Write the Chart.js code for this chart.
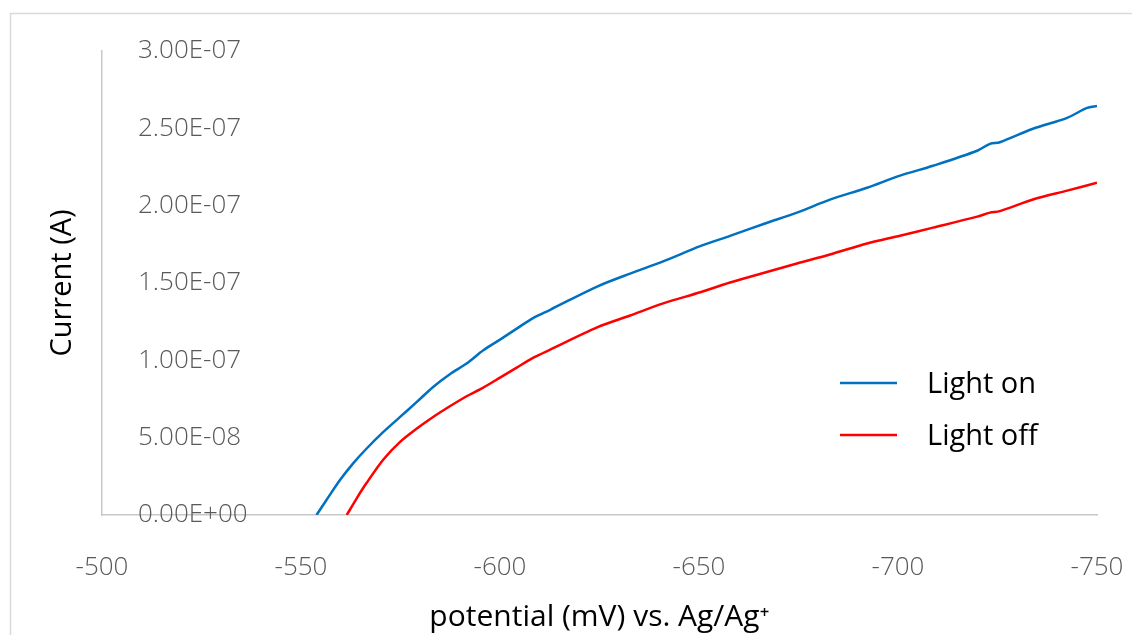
<!DOCTYPE html>
<html>
<head>
<meta charset="utf-8">
<script src="https://cdn.jsdelivr.net/npm/chart.js@4"></script>
<style>
  html, body { margin: 0; padding: 0; background: #ffffff; }
  canvas { display: block; }
</style>
</head>
<body>
<canvas id="c" width="1132" height="635"></canvas>
<script>
// ---- data (potential in mV, current in A) ----
const seriesNames = ['Light on', 'Light off'];
const potentialOn = [-553.9, -556.4, -559.8, -563.1, -566.5, -570.7, -574.9, -579.1, -583.2, -587.4, -591.6, -595.8, -600.0, -604.2, -608.4, -612.6, -624.4, -632.7, -641.0, -650.3, -657.8, -666.6, -674.6, -682.9, -692.2, -700.5, -708.8, -719.9, -723.1, -725.6, -733.9, -742.5, -747.5, -750.0];
const currentOn = [0, 9.7e-9, 2.26e-8, 3.34e-8, 4.30e-8, 5.37e-8, 6.34e-8, 7.31e-8, 8.28e-8, 9.10e-8, 9.79e-8, 1.065e-7, 1.134e-7, 1.205e-7, 1.275e-7, 1.327e-7, 1.477e-7, 1.561e-7, 1.640e-7, 1.738e-7, 1.805e-7, 1.885e-7, 1.955e-7, 2.039e-7, 2.116e-7, 2.194e-7, 2.258e-7, 2.355e-7, 2.400e-7, 2.410e-7, 2.497e-7, 2.568e-7, 2.632e-7, 2.645e-7];
const potentialOff = [-561.5, -564.0, -566.5, -570.7, -574.9, -579.1, -583.2, -587.4, -591.6, -595.8, -600.0, -604.2, -608.4, -612.6, -624.4, -632.7, -641.0, -650.3, -657.8, -666.6, -674.6, -682.9, -692.2, -700.5, -708.8, -719.9, -723.1, -725.6, -733.9, -742.5, -750.0];
const currentOff = [0, 1.08e-8, 2.08e-8, 3.59e-8, 4.73e-8, 5.59e-8, 6.34e-8, 7.03e-8, 7.68e-8, 8.24e-8, 8.88e-8, 9.53e-8, 1.017e-7, 1.069e-7, 1.213e-7, 1.290e-7, 1.368e-7, 1.440e-7, 1.503e-7, 1.568e-7, 1.626e-7, 1.684e-7, 1.755e-7, 1.806e-7, 1.858e-7, 1.929e-7, 1.955e-7, 1.965e-7, 2.040e-7, 2.097e-7, 2.148e-7];
const xTicks = [-500, -550, -600, -650, -700, -750];
const yTicks = [0, 5e-8, 1e-7, 1.5e-7, 2e-7, 2.5e-7, 3e-7];
const xTitle = 'potential (mV) vs. Ag/Ag\u207A';
const yTitle = 'Current (A)';

function fmtE(v) {
  if (Math.abs(v) < 1e-20) return '0.00E+00';
  const s = v.toExponential(2);
  const parts = s.split('e');
  const sign = parts[1][0];
  const d = parts[1].slice(1).padStart(2, '0');
  return parts[0] + 'E' + sign + d;
}
function pts(xs, ys) { return xs.map((x, i) => ({ x: x, y: ys[i] })); }

const FONT = "'Open Sans', 'Noto Sans', sans-serif";

const frame = {
  id: 'frame',
  beforeDraw(chart) {
    const ctx = chart.ctx;
    ctx.save();
    ctx.fillStyle = '#ffffff';
    ctx.fillRect(0, 0, chart.width, chart.height);
    ctx.strokeStyle = '#d9d9d9';
    ctx.lineWidth = 1.5;
    ctx.strokeRect(10.5, 13.5, 1200, 800);
    ctx.restore();
  }
};

const insideLegend = {
  id: 'insideLegend',
  afterDatasetsDraw(chart) {
    const ctx = chart.ctx;
    const a = chart.chartArea;
    ctx.save();
    chart.data.datasets.forEach((ds, i) => {
      const y = a.top + 332 + i * 52;
      ctx.strokeStyle = ds.borderColor;
      ctx.lineWidth = 2.5;
      ctx.beginPath();
      ctx.moveTo(a.right - 257, y);
      ctx.lineTo(a.right - 200, y);
      ctx.stroke();
      ctx.fillStyle = '#000000';
      ctx.font = '500 29px ' + FONT;
      ctx.textAlign = 'left';
      ctx.textBaseline = 'middle';
      ctx.fillText(ds.label, a.right - 170, y + 2);
    });
    ctx.restore();
  }
};

new Chart(document.getElementById('c'), {
  type: 'scatter',
  data: {
    datasets: [
      { label: seriesNames[0], data: pts(potentialOn, currentOn), showLine: true, borderColor: '#0070C0', backgroundColor: '#0070C0', borderWidth: 2.5, pointRadius: 0, tension: 0.3 },
      { label: seriesNames[1], data: pts(potentialOff, currentOff), showLine: true, borderColor: '#FF0000', backgroundColor: '#FF0000', borderWidth: 2.5, pointRadius: 0, tension: 0.3 }
    ]
  },
  options: {
    responsive: false,
    animation: false,
    layout: { padding: { left: 0, right: 35, top: 51, bottom: 0 } },
    plugins: { legend: { display: false }, tooltip: { enabled: false } },
    scales: {
      x: {
        type: 'linear',
        position: 'bottom',
        reverse: true,
        min: -750, max: -500,
        afterBuildTicks: (s) => { s.ticks = xTicks.map(v => ({ value: v })); },
        afterFit: (s) => { s.height = 120; s.paddingLeft = 0; s.paddingRight = 0; },
        grid: { display: false, drawTicks: false },
        border: { display: true, color: '#c8c8c8', width: 1.5 },
        ticks: { padding: 37, color: '#595959', font: { family: FONT, size: 26, weight: '300' }, callback: (v) => String(v), maxRotation: 0 },
        title: { display: true, text: xTitle, color: '#000000', font: { family: FONT, size: 30, weight: '500' }, padding: { top: 0, bottom: 0 } }
      },
      y: {
        type: 'linear',
        position: 'left',
        min: 0, max: 3e-7,
        afterBuildTicks: (s) => { s.ticks = yTicks.map(v => ({ value: v })); },
        afterFit: (s) => { s.width = 102; s.paddingTop = 0; s.paddingBottom = 0; },
        grid: { display: false, drawTicks: false },
        border: { display: true, color: '#c8c8c8', width: 1.5 },
        ticks: { mirror: true, padding: 36, color: '#595959', font: { family: FONT, size: 26, weight: '300' }, callback: (v) => fmtE(v) },
        title: { display: true, text: yTitle, color: '#000000', font: { family: FONT, size: 29, weight: '500' }, padding: { top: 45, bottom: 0 } }
      }
    }
  },
  plugins: [frame, insideLegend]
});
</script>
</body>
</html>
